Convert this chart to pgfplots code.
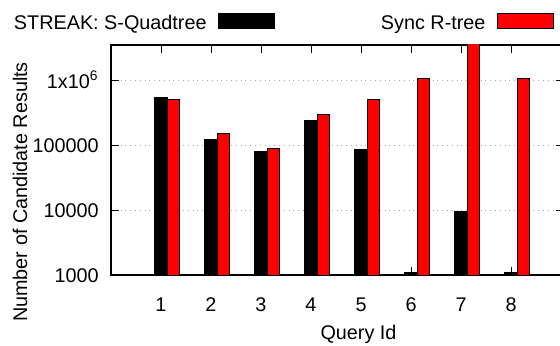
\documentclass[border=0pt]{standalone}
\usepackage{fontspec}
\setmainfont{Liberation Sans}
\usepackage{pgfplots}
\pgfplotsset{compat=1.18}
\pgfplotsset{mylegend/.style={legend image code/.code={\draw[##1, line width=0.5pt] (0pt,-2.5pt) rectangle (28pt,5pt);}}}
\begin{document}
\fontsize{9.9pt}{11.9pt}\selectfont
\begin{tikzpicture}
\begin{axis}[
 name=ax,
 scale only axis, width=226.5pt, height=115pt,
 xmin=0, xmax=9.06,
 ymode=log, log basis y=10, ymin=1000, ymax=3.6e6,
 xtick={1,...,8}, xticklabels={1,2,3,4,5,6,7,8},
 ytick={1000,10000,100000,1000000},
 yticklabels={1000,10000,100000,1x10\textsuperscript{6}},
 /pgf/number format/assume math mode=true,
 tick align=inside, major tick length=4pt, minor tick length=2pt,
 every tick/.style={black, line width=0.5pt},
 ymajorgrids, grid style={gray!70, dotted, line width=0.5pt},
 axis line style={line width=0.6pt},
 xticklabel style={anchor=base, inner sep=0pt, yshift=-18.3pt},
 yticklabel style={anchor=base east, inner sep=0pt, xshift=-6pt, yshift=-3.6pt},
 xlabel={Query Id}, ylabel={Number of Candidate Results},
 xlabel style={at={(axis description cs:0.5464,-0.2796)}, anchor=base, inner sep=0pt},
 ylabel style={at={(axis description cs:-0.1854,0.3609)}, anchor=base, inner sep=0pt},
 legend columns=2, legend plot pos=right, legend cell align=left,
 legend style={draw=none, fill=none, at={(axis description cs:0,1)}, anchor=west,
   xshift=-48.5pt, yshift=11pt, inner sep=0pt, outer sep=0pt, column sep=5.5pt,
   nodes={inner sep=0pt, outer sep=0pt}},
]
\addplot[ybar, bar width=0.25, bar shift=0pt, fill=black, draw=black, line width=0.5pt, mylegend]
 coordinates {(1,553000) (2,124000) (3,80700) (4,241000) (5,85800) (6,1110) (7,9660) (8,1110)};
\addlegendentry{STREAK: S-Quadtree}
\addplot[ybar, bar width=0.25, bar shift=0pt, fill=red, draw=black, line width=0.5pt, mylegend]
 coordinates {(1.25,526000) (2.25,155000) (3.25,90800) (4.25,300000) (5.25,526000) (6.25,1090000) (7.25,8000000) (8.25,1090000)};
\addlegendentry{\hspace*{47.7pt}Sync R-tree}
\end{axis}
\pgfresetboundingbox
\path[use as bounding box] ([shift={(-55.5pt,-35.5pt)}]ax.south west) rectangle ([shift={(-2pt,22.5pt)}]ax.north east);
\end{tikzpicture}
\end{document}
